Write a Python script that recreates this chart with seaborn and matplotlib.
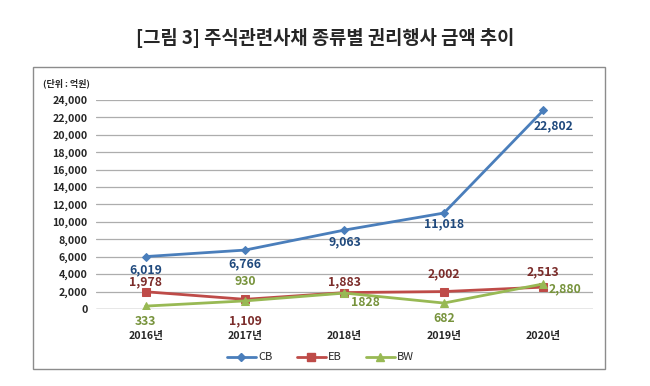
import matplotlib
matplotlib.use("Agg")
import matplotlib.pyplot as plt
from matplotlib.lines import Line2D
from matplotlib.patches import Rectangle
import seaborn as sns

years = ["2016년", "2017년", "2018년", "2019년", "2020년"]
cb = [6019, 6766, 9063, 11018, 22802]
eb = [1978, 1109, 1883, 2002, 2513]
bw = [333, 930, 1828, 682, 2880]
cb_labels = ["6,019", "6,766", "9,063", "11,018", "22,802"]
eb_labels = ["1,978", "1,109", "1,883", "2,002", "2,513"]
bw_labels = ["333", "930", "1828", "682", "2,880"]

sns.set_style("white")
plt.rcParams['font.family'] = ['Noto Sans CJK KR', 'DejaVu Sans']

fig = plt.figure(figsize=(6.5, 3.86), dpi=100)
ax = fig.add_axes([0.1477, 0.1995, 0.7646, 0.5415])

# series: name, values, labels, line colour, label colour, marker, marker size, label offsets (px)
series = [
    ("CB", cb, cb_labels, "#4A7EBB", "#1F497D", "D", 4,
     [(0, -13), (0, -14), (0, -12), (0, -11), (10, -15)]),
    ("EB", eb, eb_labels, "#BE4B48", "#7B2C2A", "s", 6,
     [(0, 10), (0, -22), (0, 11), (0, 18), (0, 15)]),
    ("BW", bw, bw_labels, "#98B954", "#77933C", "^", 6,
     [(0, -15), (0, 19), (21, -9), (0, -15), (22, -5)]),
]

for name, vals, labs, col, lcol, mk, ms, offs in series:
    sns.lineplot(x=years, y=vals, ax=ax, color=col, marker=mk, markersize=ms,
                 markeredgecolor=col, linewidth=2, sort=False, label=name)
    for i, (v, t) in enumerate(zip(vals, labs)):
        ax.annotate(t, (i, v), xytext=offs[i], textcoords="offset pixels",
                    ha="center", va="center", fontsize=8.8, fontweight="bold",
                    color=lcol)

ax.set_xlim(-0.5, 4.5)
ax.set_ylim(0, 24000)
ax.set_yticks(range(0, 24001, 2000))
ax.set_yticklabels([f"{v:,}" for v in range(0, 24001, 2000)])
for v in range(2000, 24001, 2000):
    ax.axhline(v, color="#ADADAD", lw=0.9, zorder=0)
ax.axhline(0, color="#868686", lw=1.0, zorder=0)
for s in ax.spines.values():
    s.set_visible(False)
ax.tick_params(axis="both", length=0, labelsize=7.7, pad=6)
ax.tick_params(axis="x", pad=16)
for lbl in ax.get_yticklabels() + ax.get_xticklabels():
    lbl.set_fontweight("bold")
ax.set_xlabel("")
ax.set_ylabel("")

ax.legend().remove()
handles = [Line2D([0], [0], color=c, marker=m, markersize=ms, lw=2, markeredgecolor=c)
           for _, _, _, c, _, m, ms, _ in series]
fig.legend(handles, ["CB", "EB", "BW"], loc="center", bbox_to_anchor=(0.493, 0.074),
           ncol=3, frameon=False, fontsize=8, handlelength=2.6, handletextpad=0.2,
           columnspacing=2.2)

fig.text(0.5, 0.902, "[그림 3] 주식관련사채 종류별 권리행사 금액 추이", ha="center",
         va="center", fontsize=13.5, fontweight="bold")
fig.text(0.066, 0.785, "(단위 : 억원)", ha="left", va="center", fontsize=6.5,
         fontweight="bold")

fig.patches.append(Rectangle((33 / 650, 1 - 369 / 386), 572 / 650, 302 / 386,
                             transform=fig.transFigure, fill=False,
                             edgecolor="#8C8C8C", lw=1))

fig.savefig("out.png", dpi=100)
